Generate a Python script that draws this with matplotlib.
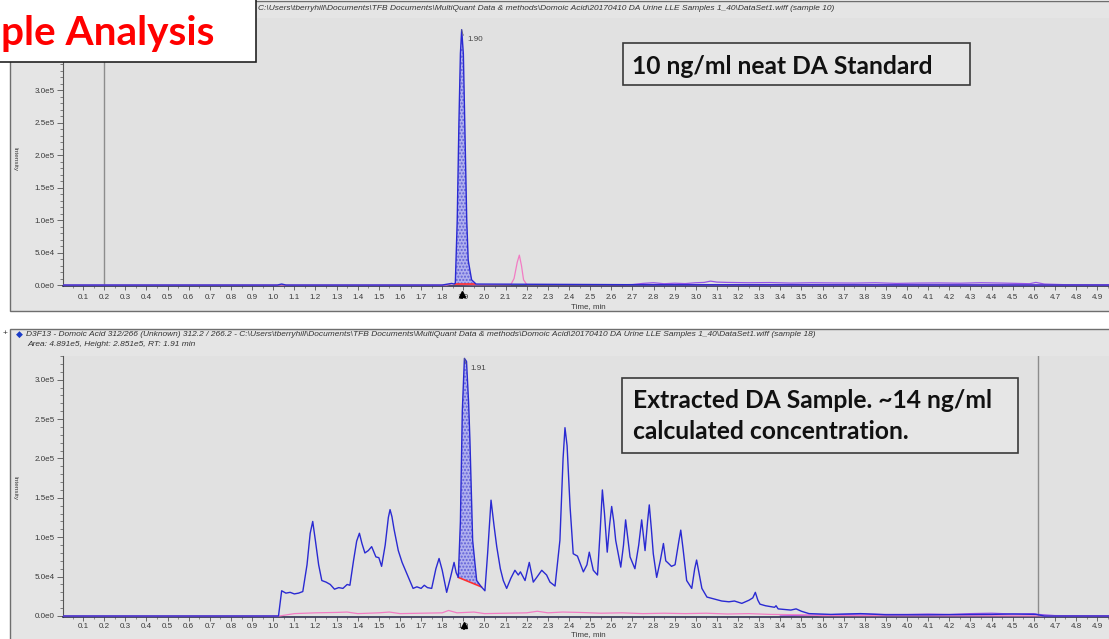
import numpy as np
import matplotlib.pyplot as plt
from matplotlib.patches import Rectangle
from matplotlib.ticker import FixedLocator, MultipleLocator, FuncFormatter

plt.rcParams['font.family'] = ['Liberation Sans', 'DejaVu Sans']

W, H = 1109, 639

# ---- sample 10 : 10 ng/ml neat DA standard ----
std_time = [0.0, 1.02, 1.04, 1.06, 1.80, 1.845, 1.855, 1.862, 1.871, 1.879, 1.886,
            1.892, 1.900, 1.908, 1.916, 1.923, 1.939, 1.960, 2.70, 4.96]
std_da = [0, 0, 1500, 0, 0, 2500, 1500, 3000, 100000, 250000, 356000,
          393000, 356000, 228000, 100000, 38000, 8000, 1500, 500, 0]

std_pink_time = [0.0, 1.82, 1.85, 1.88, 1.95, 2.125, 2.14, 2.155, 2.165, 2.175, 2.185, 2.20, 4.96]
std_pink = [0, 0, 2000, 1000, 500, 800, 10000, 35000, 46000, 30000, 8000, 800, 0]

std_purple_time = [2.60, 2.70, 2.75, 2.80, 2.85, 2.90, 2.95, 3.00, 3.04, 3.07, 3.10, 3.15,
                   3.25, 3.35, 3.45, 3.55, 3.65, 3.75, 3.85, 3.95, 4.05, 4.15, 4.25, 4.35,
                   4.45, 4.52, 4.58, 4.61, 4.65, 4.75, 4.96]
std_purple = [0, 800, 2500, 3500, 2000, 2800, 2200, 3500, 4000, 6000, 4500, 4000,
              3500, 3800, 3000, 3500, 3200, 3000, 3500, 2500, 3000, 3200, 2800, 3500,
              3000, 2500, 2000, 4000, 1500, 500, 300]

std_base_time = [1.862, 1.955]
std_base = [1500, 1500]

# ---- sample 18 : extracted DA sample ----
smp_time = [0.0, 1.025, 1.04, 1.06, 1.08, 1.10, 1.12, 1.14, 1.16, 1.175, 1.187, 1.20, 1.215,
            1.23, 1.25, 1.27, 1.29, 1.31, 1.33, 1.35, 1.363, 1.38, 1.395, 1.408, 1.42, 1.434,
            1.45, 1.466, 1.486, 1.50, 1.513, 1.53, 1.545, 1.553, 1.562, 1.572, 1.592, 1.61,
            1.632, 1.662, 1.68, 1.70, 1.715, 1.73, 1.75, 1.77, 1.785, 1.80, 1.821, 1.84,
            1.856, 1.866, 1.876, 1.886, 1.895, 1.905, 1.915, 1.925, 1.931, 1.944, 1.963,
            1.985, 2.002, 2.015, 2.031, 2.045, 2.058, 2.075, 2.089, 2.105, 2.125, 2.144,
            2.16, 2.17, 2.192, 2.212, 2.231, 2.25, 2.271, 2.294, 2.31, 2.334, 2.357, 2.372,
            2.381, 2.391, 2.405, 2.420, 2.44, 2.468, 2.485, 2.496, 2.515, 2.535, 2.548,
            2.558, 2.568, 2.581, 2.592, 2.602, 2.612, 2.621, 2.645, 2.658, 2.668, 2.678,
            2.689, 2.712, 2.73, 2.744, 2.760, 2.772, 2.780, 2.790, 2.799, 2.815, 2.832,
            2.847, 2.858, 2.870, 2.885, 2.902, 2.92, 2.929, 2.94, 2.957, 2.981, 2.995,
            3.004, 3.015, 3.029, 3.053, 3.088, 3.123, 3.157, 3.183, 3.218, 3.252, 3.270,
            3.282, 3.294, 3.304, 3.330, 3.373, 3.38, 3.39, 3.45, 3.475, 3.50, 3.536, 3.64,
            3.78, 3.90, 4.10, 4.40, 4.50, 4.61, 4.65, 4.96]
smp_da_1e4 = [0, 0, 3.2, 2.9, 3.0, 2.8, 2.9, 3.1, 6.5, 10.5, 12.0, 9.5, 6.5,
              4.5, 4.3, 4.0, 3.4, 3.6, 3.5, 4.0, 3.9, 7.0, 9.5, 10.5, 9.2, 8.0,
              8.3, 8.8, 7.5, 7.4, 6.3, 9.0, 12.5, 13.5, 12.6, 11.0, 8.3, 6.8,
              5.4, 3.5, 3.7, 3.5, 3.9, 3.6, 3.5, 6.0, 7.3, 5.8, 3.0, 5.0,
              6.8, 5.5, 4.9, 12.0, 26.0, 32.7, 32.3, 27.0, 22.4, 9.6, 4.5,
              3.7, 3.2, 8.0, 14.7, 11.5, 8.8, 6.0, 4.5, 3.5, 4.8, 5.8,
              5.2, 5.6, 4.5, 6.8, 4.3, 5.0, 5.8, 5.2, 4.3, 3.8, 9.6, 20.0,
              23.9, 21.6, 13.9, 7.9, 7.6, 5.6, 6.5, 8.1, 5.8, 5.2, 11.0,
              16.0, 13.0, 8.1, 11.5, 13.9, 12.0, 9.6, 6.2, 9.0, 12.2, 10.0,
              7.5, 6.0, 9.0, 12.2, 8.3, 12.0, 14.1, 11.0, 7.9, 4.9, 7.0,
              9.2, 7.0, 6.7, 6.3, 6.5, 9.5, 10.9, 8.5, 4.5, 3.5, 6.0,
              7.1, 5.5, 3.5, 2.4, 2.15, 1.9, 1.8, 1.9, 1.6, 2.0, 2.3,
              3.0, 2.0, 1.5, 1.3, 1.1, 1.3, 0.9, 0.75, 0.9, 0.6, 0.3, 0.2,
              0.3, 0.15, 0.15, 0.2, 0.25, 0.2, 0.0, 0.0]

smp_pink_time = [0.0, 1.03, 1.1, 1.2, 1.3, 1.35, 1.4, 1.5, 1.55, 1.6, 1.7, 1.8, 1.83, 1.87,
                 1.95, 2.0, 2.1, 2.2, 2.25, 2.3, 2.37, 2.45, 2.55, 2.65, 2.75, 2.85, 2.95,
                 3.05, 3.15, 3.25, 3.35, 3.5, 3.6, 4.96]
smp_pink_1e4 = [0, 0, 0.3, 0.4, 0.45, 0.5, 0.3, 0.4, 0.5, 0.3, 0.35, 0.4, 0.7, 0.4,
                0.5, 0.3, 0.35, 0.4, 0.6, 0.4, 0.5, 0.45, 0.35, 0.4, 0.3, 0.35, 0.3,
                0.35, 0.25, 0.3, 0.2, 0.15, 0.05, 0.0]

smp_purple_time = [3.4, 3.6, 3.8, 3.9, 4.0, 4.1, 4.2, 4.3, 4.4, 4.45, 4.5, 4.6, 4.62, 4.7, 4.96]
smp_purple_1e4 = [0, 0.15, 0.25, 0.2, 0.2, 0.25, 0.2, 0.3, 0.35, 0.3, 0.25, 0.3, 0.2, 0.05, 0]

smp_base_time = [1.876, 1.985]
smp_base = [49000, 37000]

peak_labels = ["1.90", "1.91"]
cursor_lines = [0.2, 4.62]

x_ticks = [i / 10 for i in range(1, 50)]
y_ticks = [0, 50000, 100000, 150000, 200000, 250000, 300000]

header_top = (r"C:\Users\tberryhill\Documents\TFB Documents\MultiQuant Data & methods"
              r"\Domoic Acid\20170410 DA Urine LLE Samples 1_40\DataSet1.wiff (sample 10)")
header_bot1 = (r"D3F13 - Domoic Acid 312/266 (Unknown) 312.2 / 266.2 - C:\Users\tberryhill"
               r"\Documents\TFB Documents\MultiQuant Data & methods\Domoic Acid"
               r"\20170410 DA Urine LLE Samples 1_40\DataSet1.wiff (sample 18)")
header_bot2 = "Area: 4.891e5, Height: 2.851e5, RT: 1.91 min"

BLUE = '#2a2ad2'
PINK = '#f27cc4'
PURPLE = '#9654e6'
RED = '#ff3030'
PLOT_BG = '#e1e1e1'
PANEL_BG = '#e5e5e5'


def fx(x):
    return x / W


def fy(y):
    return 1 - y / H


def sci(v, pos):
    if v == 0:
        return "0.0e0"
    e = int(np.floor(np.log10(abs(v))))
    return f"{v / 10 ** e:.1f}e{e}"


fig = plt.figure(figsize=(W / 100, H / 100), dpi=100)
fig.patch.set_facecolor('white')

# panel frames
for (x0, y0, x1, y1) in [(10, 1, 1115, 311), (10, 329, 1115, 645)]:
    fig.add_artist(Rectangle((fx(x0), fy(y1)), fx(x1 - x0), (y1 - y0) / H,
                             transform=fig.transFigure, facecolor=PANEL_BG,
                             edgecolor='#6e6e6e', lw=1.0, zorder=-5))


def make_axes(top_px, bot_px, ymax, yneg, xpad):
    ax = fig.add_axes([fx(63), fy(bot_px), fx(1109 - 63), (bot_px - top_px) / H])
    ax.set_facecolor(PLOT_BG)
    ax.set_xlim(0.005, 4.956)
    ax.set_ylim(yneg, ymax)
    for s in ['top', 'right']:
        ax.spines[s].set_visible(False)
    ax.spines['left'].set_color('#555555')
    ax.spines['left'].set_linewidth(0.8)
    ax.spines['bottom'].set_color('#303050')
    ax.spines['bottom'].set_linewidth(1.2)
    ax.xaxis.set_major_locator(FixedLocator(x_ticks))
    ax.xaxis.set_major_formatter(FuncFormatter(lambda v, p: f"{v:.1f}"))
    ax.xaxis.set_minor_locator(MultipleLocator(0.05))
    ax.yaxis.set_major_locator(FixedLocator(y_ticks))
    ax.yaxis.set_major_formatter(FuncFormatter(sci))
    ax.yaxis.set_minor_locator(MultipleLocator(10000))
    ax.tick_params(axis='x', which='major', length=3, width=0.6, color='#555555',
                   labelsize=5.8, labelcolor='#3a3a3a', pad=xpad)
    ax.tick_params(axis='x', which='minor', length=1.5, width=0.5, color='#666666')
    ax.tick_params(axis='y', which='major', length=4, width=0.6, color='#555555',
                   labelsize=5.8, labelcolor='#3a3a3a', pad=2)
    ax.tick_params(axis='y', which='minor', length=2, width=0.5, color='#555555')
    return ax


ax1 = make_axes(18, 286, 411000, -1500, 2.5)
ax2 = make_axes(356, 617, 330000, -1300, 1.5)

# ---- top chromatogram ----
ax1.axvline(cursor_lines[0], color='#8c8c8c', lw=1.0, zorder=1)
ax1.plot(std_purple_time, std_purple, color=PURPLE, lw=0.9, zorder=2)
ax1.plot(std_pink_time, std_pink, color=PINK, lw=0.9, zorder=3)
t1 = np.array(std_time)
i1 = np.array(std_da)
m = (t1 >= std_base_time[0]) & (t1 <= std_base_time[1] + 0.01)
ax1.fill(list(t1[m]) + std_base_time[::-1], list(i1[m]) + std_base[::-1],
         facecolor='#b0b0ee', edgecolor='#6060d8', lw=0, hatch='.....', zorder=3)
ax1.plot(std_base_time, std_base, color=RED, lw=1.2, zorder=4)
ax1.plot(t1, i1, color=BLUE, lw=1.0, zorder=5)

# ---- bottom chromatogram ----
ax2.axvline(cursor_lines[1], color='#8c8c8c', lw=1.0, zorder=1)
ax2.plot(smp_purple_time, np.array(smp_purple_1e4) * 1e4, color=PURPLE, lw=0.9, zorder=2)
ax2.plot(smp_pink_time, np.array(smp_pink_1e4) * 1e4, color=PINK, lw=0.9, zorder=3)
t2 = np.array(smp_time)
i2 = np.array(smp_da_1e4) * 1e4
m = (t2 >= smp_base_time[0]) & (t2 <= smp_base_time[1])
ax2.fill(list(t2[m]) + smp_base_time[::-1], list(i2[m]) + smp_base[::-1],
         facecolor='#b0b0ee', edgecolor='#6060d8', lw=0, hatch='.....', zorder=3)
ax2.plot(smp_base_time, smp_base, color=RED, lw=1.2, zorder=4)
ax2.plot(t2, i2, color=BLUE, lw=1.0, zorder=5)

# peak labels, arrows, axis titles
for ax, t, i, lab, h_px, off in [(ax1, t1, i1, peak_labels[0], 268, 8),
                                  (ax2, t2, i2, peak_labels[1], 261, 8)]:
    k = int(np.argmax(i))
    ax.annotate(lab, xy=(t[k], i[k]), xytext=(4, -7), textcoords='offset points',
                fontsize=5.8, color='#444444', ha='left', va='center',
                arrowprops=dict(arrowstyle='-', color='#666666', lw=0.5,
                                connectionstyle='arc3,rad=-0.5', shrinkA=1, shrinkB=0),
                zorder=6)
    ax.plot([t[k]], [-off / h_px], marker='^', ms=4.5, color='black',
            transform=ax.get_xaxis_transform(), clip_on=False, zorder=7)
    ax.plot([t[k], t[k]], [-(off + 1) / h_px, -(off + 4) / h_px], color='black', lw=1.2,
            transform=ax.get_xaxis_transform(), clip_on=False, zorder=7)

for ypx in [307, 635]:
    fig.text(fx(588), fy(ypx), "Time, min", fontsize=5.8, color='#3a3a3a',
             ha='center', va='center')
for ypx in [159, 488]:
    fig.text(fx(15), fy(ypx), "Intensity", fontsize=4.6, color='#3a3a3a',
             rotation=270, ha='center', va='center')

# headers
fig.text(fx(258), fy(8), header_top, fontsize=6.0, style='italic', color='#333333',
         ha='left', va='center')
fig.text(fx(3), fy(334), "+", fontsize=6, color='#333333', ha='left', va='center')
fig.text(fx(19.5), fy(334), "\u25c6", fontsize=6.5, color='#1a3cc8', ha='center',
         va='center', family=['DejaVu Sans'])
fig.text(fx(25.5), fy(334), header_bot1, fontsize=6.0, style='italic', color='#333333',
         ha='left', va='center')
fig.text(fx(27.5), fy(345), header_bot2, fontsize=6.0, style='italic', color='#333333',
         ha='left', va='center')

# title box
fig.add_artist(Rectangle((fx(-5), fy(62)), fx(261), 70 / H, transform=fig.transFigure,
                         facecolor='white', edgecolor='#222222', lw=1.2, zorder=10))
fig.text(fx(1), fy(45), "ple Analysis", fontsize=29.2, fontweight='bold',
         color='#ff0000', ha='left', va='baseline', family=['Lato', 'DejaVu Sans'],
         zorder=11)

# annotation boxes
fig.add_artist(Rectangle((fx(623), fy(84.5)), fx(970 - 623), (84.5 - 43) / H,
                         transform=fig.transFigure, facecolor='#e6e6e6',
                         edgecolor='#3a3a3a', lw=1.2, zorder=10))
fig.text(fx(632), fy(73.5), "10 ng/ml neat DA Standard", fontsize=17.7, fontweight='bold',
         color='#111111', ha='left', va='baseline', family=['Lato', 'DejaVu Sans'], zorder=11)

fig.add_artist(Rectangle((fx(622.5), fy(452.5)), fx(1018 - 622.5), (452.5 - 378) / H,
                         transform=fig.transFigure, facecolor='#e6e6e6',
                         edgecolor='#3a3a3a', lw=1.2, zorder=10))
fig.text(fx(633), fy(408), "Extracted DA Sample. ~14 ng/ml", fontsize=17.7,
         fontweight='bold', color='#111111', ha='left', va='baseline',
         family=['Lato', 'DejaVu Sans'], zorder=11)
fig.text(fx(633), fy(439), "calculated concentration.", fontsize=17.7,
         fontweight='bold', color='#111111', ha='left', va='baseline',
         family=['Lato', 'DejaVu Sans'], zorder=11)

fig.savefig('out.png', dpi=100, facecolor='white')
